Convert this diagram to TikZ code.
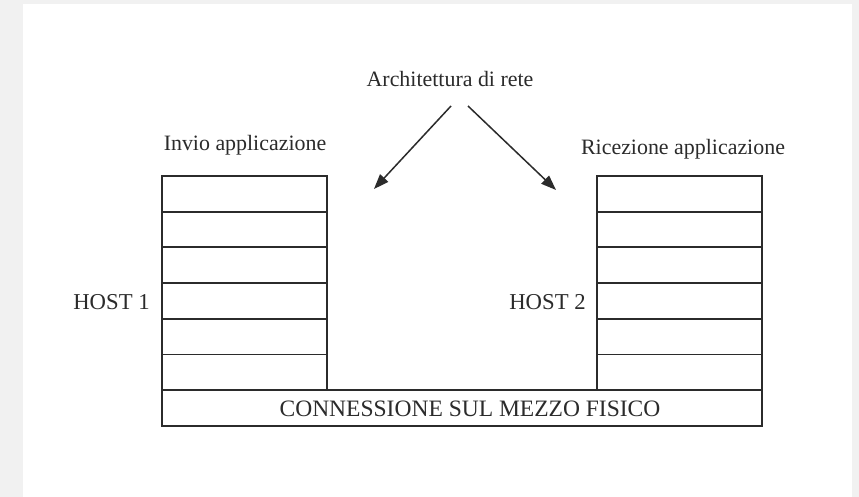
\documentclass[tikz,border=0pt]{standalone}
\usepackage{fontspec}
\setmainfont{Liberation Serif}
\usetikzlibrary{arrows.meta}
\definecolor{framegray}{HTML}{F1F1F1}
\definecolor{ink}{HTML}{2B2B2B}
\begin{document}
\begin{tikzpicture}[x=1bp,y=-1bp,
  lbl/.style={inner sep=0pt,anchor=base,text=ink,font=\fontsize{22}{26}\selectfont},
  row/.style={draw=ink,line width=1.7bp,minimum width=165bp,minimum height=35.67bp,inner sep=0pt,outer sep=0pt},
  base/.style={draw=ink,line width=1.7bp,minimum width=600bp,minimum height=36bp,inner sep=0pt,outer sep=0pt},
  arr/.style={draw=ink,line width=1.5bp,-{Triangle[length=15bp,width=11bp]}}]
\useasboundingbox (0,0) rectangle (859,497);
\fill[framegray] (0,0) rectangle (859,497);
\fill[white] (23,4) rectangle (852,497);
% stacks
\foreach \i in {1,...,6}{
  \node[row] (L\i) at (244.5,{176+35.67*(\i-0.5)}) {};
  \node[row] (R\i) at (679.5,{176+35.67*(\i-0.5)}) {};
}
\node[base] (phys) at (462,408) {};
\node[lbl,font=\fontsize{23.6}{27}\selectfont] (physlbl) at (470,416) {CONNESSIONE SUL MEZZO FISICO};
% labels
\node[lbl] (arch) at (450,87) {Architettura di rete};
\node[lbl] (invio) at (245,151) {Invio applicazione};
\node[lbl] (ricez) at (683,155) {Ricezione applicazione};
\node[lbl,font=\fontsize{22.8}{26}\selectfont] (host1) at (111.5,310) {HOST 1};
\node[lbl,font=\fontsize{22.8}{26}\selectfont] (host2) at (547.5,310) {HOST 2};
% arrows
\coordinate (a1s) at (451,106);
\coordinate (a1e) at (374,189);
\coordinate (a2s) at (468,106);
\coordinate (a2e) at (556,190);
\draw[arr] (a1s) -- (a1e);
\draw[arr] (a2s) -- (a2e);
\end{tikzpicture}
\end{document}
